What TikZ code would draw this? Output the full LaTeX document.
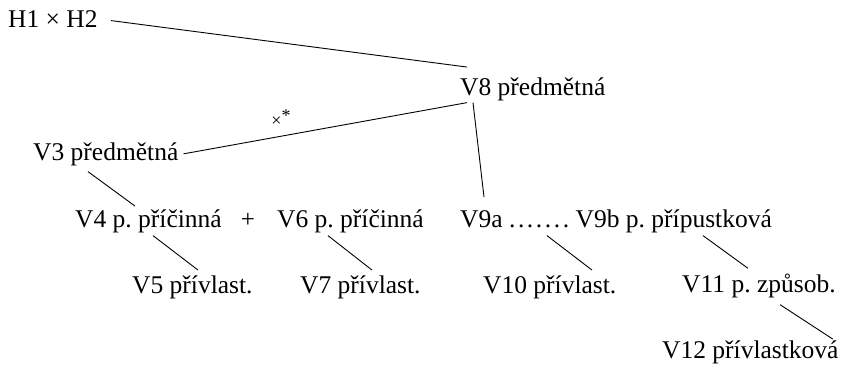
\documentclass[tikz,border=0pt]{standalone}
\usepackage{fontspec}
\setmainfont{Liberation Serif}
\usepackage{tikz}
\usetikzlibrary{positioning,calc}
\newcommand{\dotgap}{\kern2.6pt}
\frenchspacing

\begin{document}
\begin{tikzpicture}[
    x=1pt, y=-1pt,
    clause/.style={anchor=base west, inner sep=2pt, font=\fontsize{25.5}{30}\selectfont},
    link/.style={draw=black, line width=0.9pt},
    relsign/.style={font=\fontsize{18}{20}\selectfont, inner sep=1pt},
]
\useasboundingbox (0,0) rectangle (843,367);
% main clauses
\node[clause] (H) at (6, 27) {H1 × H2};
\node[clause] (V8) at (458, 95) {V8 předmětná};
\node[clause] (V3) at (31, 160) {V3 předmětná};
\node[relsign] (X) at (281, 118) {×\raisebox{5pt}{*}};
% second level
\node[clause] (V4) at (73, 227) {V4 p. příčinná};
\node[clause, anchor=base, font=\fontsize{25}{28}\selectfont] (P) at (248, 227) {+};
\node[clause] (V6) at (275, 227) {V6 p. příčinná};
\node[clause] (V9) at (458, 227) {V9a .\dotgap.\dotgap.\dotgap.\dotgap.\dotgap.\dotgap. V9b p. přípustková};
% third level
\node[clause] (V5) at (130, 293) {V5 přívlast.};
\node[clause] (V7) at (298, 293) {V7 přívlast.};
\node[clause] (V10) at (481, 293) {V10 přívlast.};
\node[clause] (V11) at (680, 292) {V11 p. způsob.};
\node[clause] (V12) at (660, 358) {V12 přívlastková};
% links
\draw[link] ([shift={(11,2)}]H.east) -- ([shift={(9,-8)}]V8.north west);
\draw[link] ([xshift=9pt]V8.south west) -- ([xshift=3pt]V3.east);
\draw[link] ([xshift=15pt]V8.south west) -- ([shift={(26,-10)}]V9.north west);
\draw[link] ([shift={(57,4)}]V3.south west) -- ([shift={(62,-1)}]V4.north west);
\draw[link] ([shift={(80,1)}]V4.south west) -- ([shift={(68,-3)}]V5.north west);
\draw[link] ([shift={(53,1)}]V6.south west) -- ([shift={(74,-3)}]V7.north west);
\draw[link] ([shift={(89,1)}]V9.south west) -- ([shift={(111,-3)}]V10.north west);
\draw[link] ([shift={(245,1)}]V9.south west) -- ([shift={(68,-3)}]V11.north west);
\draw[link] ([shift={(100,5)}]V11.south west) -- ([shift={(-8,1)}]V12.north east);
\end{tikzpicture}
\end{document}
